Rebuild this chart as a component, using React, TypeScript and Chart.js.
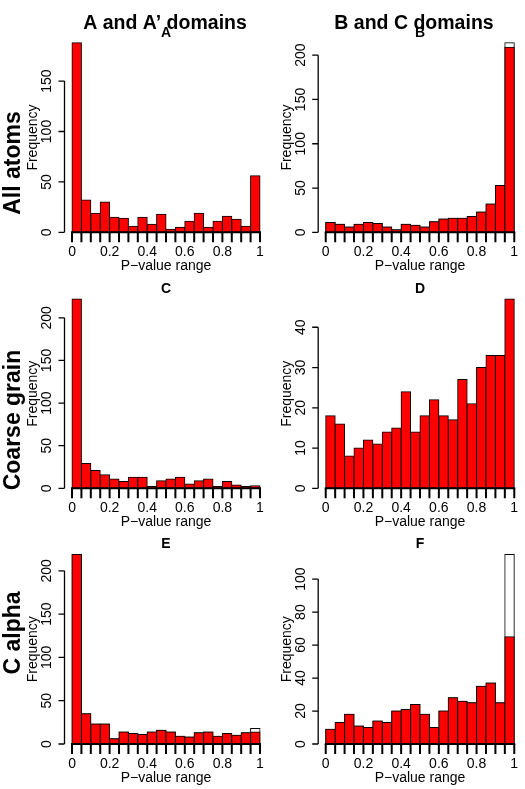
import React, { useEffect, useRef } from "react";
import { Chart, registerables } from "chart.js";

Chart.register(...registerables);

// ---------- data ----------
const breaks = [0, 0.05, 0.1, 0.15, 0.2, 0.25, 0.3, 0.35, 0.4, 0.45, 0.5, 0.55, 0.6, 0.65, 0.7, 0.75, 0.8, 0.85, 0.9, 0.95, 1];
const xTickValues = [0, 0.2, 0.4, 0.6, 0.8, 1];
const xTickLabels = ["0", "0.2", "0.4", "0.6", "0.8", "1"];
const columnTitles = ["A and A\u2019 domains", "B and C domains"];
const rowTitles = ["All atoms", "Coarse grain", "C alpha"];
const panelLetters = ["A", "B", "C", "D", "E", "F"];
const xAxisTitle = "P\u2212value range";
const yAxisTitle = "Frequency";

const countsA = [188, 32, 19, 30, 15, 14, 6, 15, 8, 18, 3, 5, 11, 19, 5, 11, 16, 13, 6, 56];
const countsB = [11, 9, 6, 9, 11, 10, 6, 3, 9, 8, 6, 12, 15, 16, 16, 18, 23, 32, 53, 209];
const totalsB = [11, 9, 6, 9, 11, 10, 6, 3, 9, 8, 6, 12, 15, 16, 16, 18, 23, 32, 53, 214];
const countsC = [222, 29, 21, 16, 11, 8, 13, 13, 2, 9, 11, 13, 5, 9, 11, 2, 8, 4, 2, 3];
const countsD = [18, 16, 8, 10, 12, 11, 14, 15, 24, 14, 18, 22, 18, 17, 27, 21, 30, 33, 33, 47];
const countsE = [219, 35, 23, 23, 6, 14, 12, 11, 14, 16, 14, 9, 8, 13, 14, 9, 12, 10, 13, 14];
const totalsE = [219, 35, 23, 23, 6, 14, 12, 11, 14, 16, 14, 9, 8, 13, 14, 9, 12, 10, 13, 18];
const countsF = [9, 13, 18, 11, 10, 14, 13, 20, 21, 24, 18, 10, 20, 28, 26, 25, 35, 37, 25, 65];
const totalsF = [9, 13, 18, 11, 10, 14, 13, 20, 21, 24, 18, 10, 20, 28, 26, 25, 35, 37, 25, 115];

const yTicksA = [0, 50, 100, 150];
const yTicksB = [0, 50, 100, 150, 200];
const yTicksC = [0, 50, 100, 150, 200];
const yTicksD = [0, 10, 20, 30, 40];
const yTicksE = [0, 50, 100, 150, 200];
const yTicksF = [0, 20, 40, 60, 80, 100];

// ---------- layout (page pixels) ----------
const PAGE_W = 525;
const PAGE_H = 789;
const colCells = [[0, 290], [268, 525]];
const rowCells = [[0, 280], [255, 532], [508, 789]];
const colRegions = [[64.5, 267.5], [318.2, 521.8]];
const rowRegions = [[35.2, 239.9], [291.5, 495.9], [546.8, 751.6]];
const colTitleX = [165, 414];
const colTitleY = 24;
const rowTitleX = 14;
const rowTitleY = [163, 420, 633];

const FONT = '"Liberation Sans", Arial, Helvetica, sans-serif';

type PanelSpec = {
  letter: string;
  counts: number[];
  totals: number[] | null;
  yTicks: number[];
  row: number;
  col: number;
};

const panels: PanelSpec[] = [
  { letter: panelLetters[0], counts: countsA, totals: null, yTicks: yTicksA, row: 0, col: 0 },
  { letter: panelLetters[1], counts: countsB, totals: totalsB, yTicks: yTicksB, row: 0, col: 1 },
  { letter: panelLetters[2], counts: countsC, totals: null, yTicks: yTicksC, row: 1, col: 0 },
  { letter: panelLetters[3], counts: countsD, totals: null, yTicks: yTicksD, row: 1, col: 1 },
  { letter: panelLetters[4], counts: countsE, totals: totalsE, yTicks: yTicksE, row: 2, col: 0 },
  { letter: panelLetters[5], counts: countsF, totals: totalsF, yTicks: yTicksF, row: 2, col: 1 },
];

const rAxesPlugin = {
  id: "rAxes",
  afterDraw(chart: any, _args: any, opts: any) {
    const ctx: CanvasRenderingContext2D = chart.ctx;
    const xs = chart.scales.x;
    const ys = chart.scales.y;
    const area = chart.chartArea;
    const y0 = ys.getPixelForValue(0);
    ctx.save();
    ctx.strokeStyle = "#000";
    ctx.fillStyle = "#000";

    // x axis baseline
    ctx.lineWidth = 2;
    ctx.beginPath();
    ctx.moveTo(xs.getPixelForValue(breaks[0]) - 1, y0);
    ctx.lineTo(xs.getPixelForValue(breaks[breaks.length - 1]) + 1, y0);
    ctx.stroke();
    // x ticks at every break
    ctx.beginPath();
    for (const b of breaks) {
      const px = xs.getPixelForValue(b);
      ctx.moveTo(px, y0);
      ctx.lineTo(px, y0 + 10);
    }
    ctx.stroke();
    ctx.font = `14px ${FONT}`;
    ctx.textAlign = "center";
    ctx.textBaseline = "middle";
    xTickValues.forEach((v, i) => {
      ctx.fillText(xTickLabels[i], xs.getPixelForValue(v), y0 + 20);
    });
    ctx.fillText(xAxisTitle, (xs.getPixelForValue(0) + xs.getPixelForValue(1)) / 2, y0 + 34);

    // y axis
    const ax = area.left;
    const yt: number[] = opts.yTicks;
    ctx.lineWidth = 1.3;
    ctx.beginPath();
    ctx.moveTo(ax, ys.getPixelForValue(yt[0]));
    ctx.lineTo(ax, ys.getPixelForValue(yt[yt.length - 1]));
    for (const t of yt) {
      const py = ys.getPixelForValue(t);
      ctx.moveTo(ax, py);
      ctx.lineTo(ax - 6, py);
    }
    ctx.stroke();
    for (const t of yt) {
      const py = ys.getPixelForValue(t);
      ctx.save();
      ctx.translate(ax - 17, py);
      ctx.rotate(-Math.PI / 2);
      ctx.fillText(String(t), 0, 0);
      ctx.restore();
    }
    ctx.save();
    ctx.translate(ax - 31, (area.top + area.bottom) / 2);
    ctx.rotate(-Math.PI / 2);
    ctx.fillText(yAxisTitle, 0, 0);
    ctx.restore();

    // panel letter
    ctx.font = `bold 14px ${FONT}`;
    ctx.fillText(opts.letter, (area.left + area.right) / 2, area.top - 2.5);

    // column title
    if (opts.colTitle) {
      ctx.font = `bold 19.5px ${FONT}`;
      ctx.fillText(opts.colTitle, opts.colTitleX, opts.colTitleY);
    }
    // row title
    if (opts.rowTitle) {
      ctx.font = `bold 23px ${FONT}`;
      ctx.save();
      ctx.translate(opts.rowTitleX, opts.rowTitleY);
      ctx.rotate(-Math.PI / 2);
      ctx.fillText(opts.rowTitle, 0, 0);
      ctx.restore();
    }
    ctx.restore();
  },
};

function Panel({ spec }: { spec: PanelSpec }) {
  const ref = useRef<HTMLCanvasElement | null>(null);
  const [cl, cr] = colCells[spec.col];
  const [ct, cb] = rowCells[spec.row];
  const [rl, rr] = colRegions[spec.col];
  const [rt, rb] = rowRegions[spec.row];
  const w = cr - cl;
  const h = cb - ct;

  useEffect(() => {
    if (!ref.current) return;
    const centers = breaks.slice(0, -1).map((b, i) => (b + breaks[i + 1]) / 2);
    const ymax = Math.max(...spec.counts, ...(spec.totals || []));
    const common = {
      borderColor: "#000000",
      borderWidth: 1,
      borderSkipped: false,
      barPercentage: 1,
      categoryPercentage: 1,
      grouped: false,
      inflateAmount: 0.5,
    };
    const datasets: any[] = [
      {
        ...common,
        label: "subset",
        data: centers.map((x, i) => ({ x, y: spec.counts[i] })),
        backgroundColor: "#ff0000",
        order: 0,
      },
    ];
    if (spec.totals) {
      datasets.push({
        ...common,
        label: "all",
        data: centers.map((x, i) => ({ x, y: spec.totals![i] })),
        backgroundColor: "#ffffff",
        order: 1,
      });
    }
    const chart = new Chart(ref.current, {
      type: "bar",
      data: { datasets },
      options: {
        animation: false,
        responsive: false,
        devicePixelRatio: 1,
        layout: {
          padding: { left: rl - cl, right: cr - rr, top: rt - ct, bottom: cb - rb },
        },
        scales: {
          x: {
            type: "linear",
            min: -0.04,
            max: 1.04,
            offset: false,
            display: false,
            ticks: { stepSize: 0.5, includeBounds: false },
          },
          y: {
            type: "linear",
            min: -0.04 * ymax,
            max: 1.04 * ymax,
            display: false,
            ticks: { includeBounds: false },
          },
        },
        plugins: {
          legend: { display: false },
          tooltip: { enabled: false },
          title: { display: false },
          rAxes: {
            yTicks: spec.yTicks,
            letter: spec.letter,
            colTitle: spec.row === 0 ? columnTitles[spec.col] : null,
            colTitleX: colTitleX[spec.col] - cl,
            colTitleY: colTitleY - ct,
            rowTitle: spec.col === 0 ? rowTitles[spec.row] : null,
            rowTitleX: rowTitleX - cl,
            rowTitleY: rowTitleY[spec.row] - ct,
          },
        } as any,
      },
      plugins: [rAxesPlugin],
    });
    return () => chart.destroy();
  }, [spec]);

  return (
    <canvas
      ref={ref}
      width={w}
      height={h}
      style={{ position: "absolute", left: cl, top: ct, width: w, height: h }}
    />
  );
}

export default function App() {
  return (
    <div
      style={{
        position: "absolute",
        left: 0,
        top: 0,
        width: PAGE_W,
        height: PAGE_H,
        background: "#ffffff",
        overflow: "hidden",
      }}
    >
      {panels.map((p) => (
        <Panel key={p.letter} spec={p} />
      ))}
    </div>
  );
}
